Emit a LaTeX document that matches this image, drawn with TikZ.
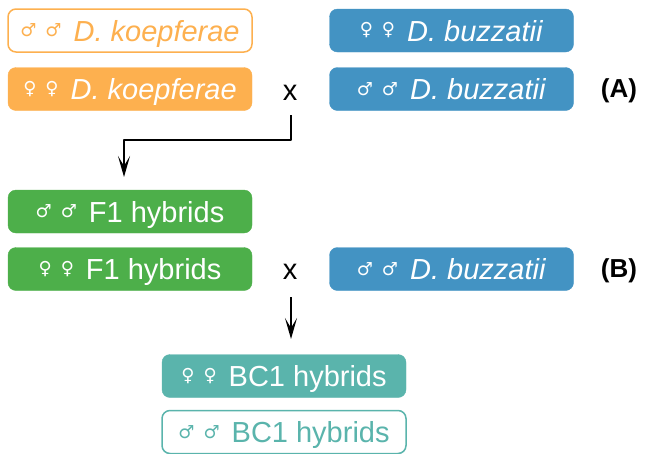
\documentclass[tikz,border=0pt]{standalone}
\usepackage{fontspec}
\usetikzlibrary{arrows.meta}
\setmainfont{Liberation Sans}
\newfontfamily\symfont{DejaVu Sans}
\definecolor{koep}{HTML}{FDB04F}
\definecolor{buzz}{HTML}{4393C3}
\definecolor{fone}{HTML}{4DAF4A}
\definecolor{bcone}{HTML}{5AB4AC}
% sex symbols, centred on the capitals
\newcommand{\sexsym}[1]{\raisebox{\dimexpr 10.5pt-0.5\height+0.5\depth\relax}{\symfont\fontsize{18}{18}\selectfont #1}}
\newcommand{\males}{\sexsym{♂}\hspace{9pt}\sexsym{♂}\hspace{12pt}}
\newcommand{\females}{\sexsym{♀}\hspace{9pt}\sexsym{♀}\hspace{12pt}}
\begin{document}
\begin{tikzpicture}[x=1pt, y=-1pt, line join=round,
	font=\fontsize{29}{31}\selectfont,
	pop/.style={rounded corners=8pt, minimum width=244pt, minimum height=43pt,
		inner sep=0pt, text height=21pt, text depth=0pt},
	filled/.style={pop, fill=#1, draw=#1, text=white},
	hollow/.style={pop, draw=#1, line width=1.5pt, fill=white, text=#1},
	cross/.style={font=\fontsize{29}{31}\selectfont, anchor=base, inner sep=0pt},
	tag/.style={font=\fontsize{26}{28}\selectfont\bfseries, anchor=base, inner sep=0pt},
	arr/.style={-{Stealth[length=21pt, width=12pt, inset=10pt]}, line width=2.2pt}]
	\useasboundingbox (0,0) rectangle (645,453);
	% parents (A)
	\node[hollow=koep] (km) at (130,30.5) {\males\textit{D. koepferae}};
	\node[filled=koep] (kf) at (130,89) {\females\textit{D. koepferae}};
	\node[filled=buzz] (bf) at (451.5,30.5) {\females\textit{D. buzzatii}};
	\node[filled=buzz] (bm) at (451.5,89) {\males\textit{D. buzzatii}};
	\node[cross] (xa) at (290,100) {x};
	\node[tag] (ta) at (619,97) {(A)};
	% F1 and backcross (B)
	\node[filled=fone] (fm) at (130,211.5) {\males F1 hybrids};
	\node[filled=fone] (ff) at (130,269) {\females F1 hybrids};
	\node[filled=buzz] (bm2) at (451.5,269) {\males\textit{D. buzzatii}};
	\node[cross] (xb) at (290,279) {x};
	\node[tag] (tb) at (619,277) {(B)};
	% BC1
	\node[filled=bcone] (cf) at (284,376) {\females BC1 hybrids};
	\node[hollow=bcone] (cm) at (284,432) {\males BC1 hybrids};
	% crosses
	\coordinate (a0) at (291,115);
	\coordinate (bend) at (291,140);
	\coordinate (fin) at (124,177);
	\coordinate (b0) at (291,297);
	\coordinate (b1) at (291,339);
	\draw[arr] (a0) -- (bend) -| (fin);
	\draw[arr] (b0) -- (b1);
\end{tikzpicture}
\end{document}
